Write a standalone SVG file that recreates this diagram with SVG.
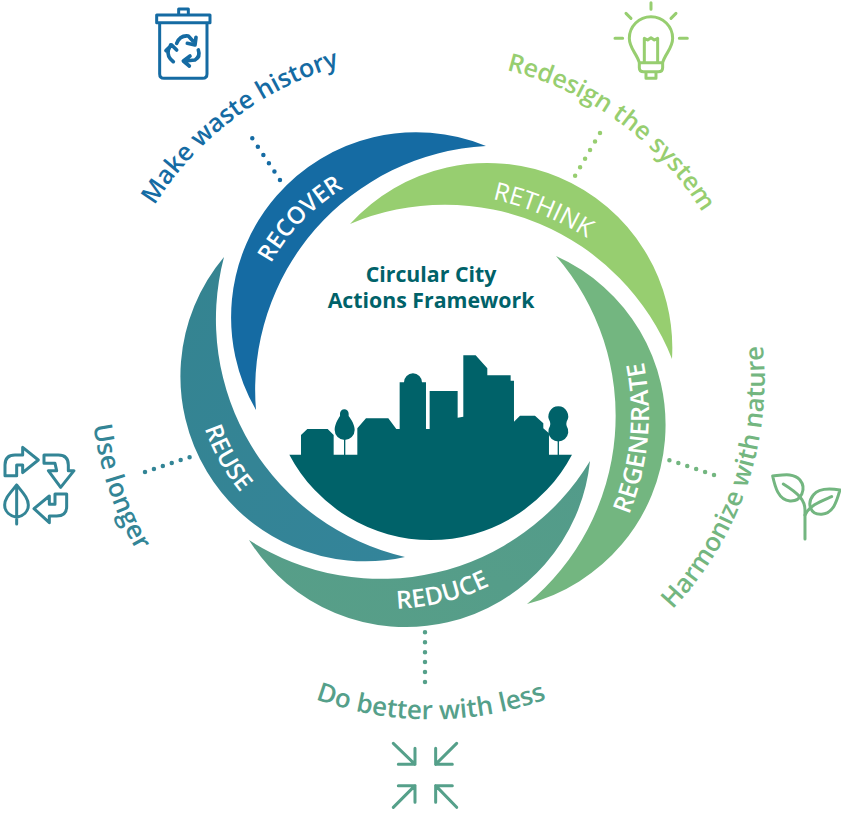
<svg xmlns="http://www.w3.org/2000/svg" width="841" height="820" viewBox="0 0 841 820">
<style>
text{font-family:"Open Sans","Noto Sans","Liberation Sans",sans-serif;font-weight:600}
.lab{font-size:26px}
.seg{font-size:25px;fill:#fff}
.ttl{font-size:21.3px;font-weight:700;fill:#006269;text-anchor:middle}
.ic{fill:none;stroke-width:9;stroke-linecap:round;stroke-linejoin:round}
.dot{fill:none;stroke-width:4.5;stroke-linecap:round}
</style>
<defs>
<linearGradient id="gu" x1="0" y1="0" x2="1" y2="1"><stop offset="0" stop-color="#358490"/><stop offset="1" stop-color="#33849a"/></linearGradient>
<linearGradient id="gd" x1="0" y1="1" x2="1" y2="0"><stop offset="0" stop-color="#589f88"/><stop offset="1" stop-color="#529b8a"/></linearGradient>
<path id="t1" d="M104.4,363 A327,327 0 0 1 504.6,61.4"/>
<path id="t2" d="M353.8,70.5 A319,319 0 0 1 749.2,357.7"/>
<path id="t3" d="M552,690 A333,333 0 0 0 717,208"/>
<path id="t4" d="M213,640 A339,339 0 0 0 649,640"/>
<path id="t5" d="M139.5,204 A340,340 0 0 0 309,697.5"/>
<path id="s1" d="M252,311.6 A200,200 0 0 1 391,168"/>
<path id="s2" d="M411.8,192.4 A300,300 0 0 1 649,290"/>
<path id="s3" d="M600.7,566.6 A266,266 0 0 0 625.8,305.8"/>
<path id="s4" d="M194,364 A200,200 0 0 0 290,535"/>
<path id="s5" d="M323,600 A235,235 0 0 0 551,543"/>
</defs>
<g id="connectors">
<line class="dot" x1="252.3" y1="138.3" x2="280" y2="180" stroke="#156ba3" stroke-dasharray="0 10"/>
<line class="dot" x1="600" y1="133" x2="575" y2="176" stroke="#97ce70" stroke-dasharray="0 9.9"/>
<line class="dot" x1="714" y1="475" x2="669" y2="460" stroke="#73b680" stroke-dasharray="0 9.4"/>
<line class="dot" x1="425" y1="682" x2="425" y2="632" stroke="#55a08a" stroke-dasharray="0 9.95"/>
<line class="dot" x1="145" y1="472" x2="190" y2="457" stroke="#338596" stroke-dasharray="0 9.4"/>
</g>
<g id="recover">
<path fill="#156ba3" d="M256,410 A185,185 0 0 1 486,146 A244,244 0 0 0 256,410Z"/>
<text class="seg" style="font-size:23.8px"><textPath href="#s1" startOffset="50%" text-anchor="middle">RECOVER</textPath></text>
<text class="lab" style="font-size:25.2px" fill="#156ba3"><textPath href="#t1" startOffset="50%" text-anchor="middle">Make waste history</textPath></text>
<g transform="translate(130 0) scale(.3333)" class="ic" stroke="#156ba3">
<path d="M80,45H240V68H80ZM146,45V27H175V45M89,68V222Q89,235 102,235H218Q231,235 231,222V68"/>
<path style="stroke-width:11" d="M140,130Q150,105 175,108L188,122M198,112L195,135L172,130M205,150Q212,170 195,180L165,183M180,168L160,183L178,198M130,185Q110,170 115,150L122,135M108,152L125,135L140,150"/>
</g>
</g>
<g id="rethink">
<path fill="#97ce70" d="M350,224 A185,185 0 0 1 672,359 A244,244 0 0 0 350,224Z"/>
<text class="seg" style="font-weight:500"><textPath href="#s2" startOffset="50%" text-anchor="middle">RETHINK</textPath></text>
<text class="lab" style="font-size:25px" fill="#97ce70"><textPath href="#t2" startOffset="50%" text-anchor="middle">Redesign the system</textPath></text>
<g transform="translate(500 0) scale(.3333)" class="ic" stroke="#97ce70">
<path d="M453,8V28M378,40L393,55M528,40L513,55M345,115H368M538,115H562"/>
<path d="M418,188C410,160 388,145 388,115A65,65 0 1 1 518,115C518,145 496,160 488,188V203Q488,215 475,215H431Q418,215 418,203ZM418,188H488M438,215V235H468V215M433,188V115L443,120L453,113L463,120L473,115V188"/>
</g>
</g>
<g id="regenerate">
<path fill="#73b680" d="M556,256 A185,185 0 0 1 527,604 A244,244 0 0 0 556,256Z"/>
<text class="seg"><textPath href="#s3" startOffset="50%" text-anchor="middle">REGENERATE</textPath></text>
<text class="lab" style="font-size:25.7px" fill="#73b680"><textPath href="#t3" startOffset="50%" text-anchor="middle">Harmonize with nature</textPath></text>
<g transform="translate(650 340) scale(.3333)" class="ic" stroke="#73b680">
<path d="M465,597V510C465,480 445,460 400,432"/>
<path d="M368,408C400,405 430,398 450,420C470,445 455,485 420,483C385,480 375,440 368,408Z"/>
<path d="M570,450C540,445 505,445 490,465C470,490 480,525 515,523C550,520 560,485 570,450Z"/>
<path d="M465,525C480,495 510,485 545,470"/>
</g>
</g>
<g id="reduce">
<path fill="url(#gd)" d="M590,461 A185,185 0 0 1 249,540 A244,244 0 0 0 590,461Z"/>
<text class="seg"><textPath href="#s5" startOffset="50%" text-anchor="middle">REDUCE</textPath></text>
<text class="lab" fill="#55a08a"><textPath href="#t4" startOffset="50%" text-anchor="middle">Do better with less</textPath></text>
<g transform="translate(300 620) scale(.3333)" class="ic" stroke="#55a08a">
<path d="M280,370L345,433M345,385V433H295M470,370L407,433M407,385V433H457M280,562L345,497M345,547V497H295M470,562L407,497M407,547V497H457"/>
</g>
</g>
<g id="reuse">
<path fill="url(#gu)" d="M405,557 A185,185 0 0 1 224,257 A244,244 0 0 0 405,557Z"/>
<text class="seg" style="font-size:24.3px"><textPath href="#s4" startOffset="50%" text-anchor="middle">REUSE</textPath></text>
<text class="lab" fill="#338596"><textPath href="#t5" startOffset="50%" text-anchor="middle">Use longer</textPath></text>
<g transform="translate(0 410) scale(.3333)" class="ic" stroke="#338596">
<path d="M15,197V165Q15,135 45,135H68V112L115,150L68,188V165H50V197Z"/>
<path d="M132,135H175Q205,135 205,165V182H222L182,232L145,182H170L165,160H132Z"/>
<path d="M200,252V290Q200,318 170,318H148V338L102,296L148,258V283H165V252Z"/>
<path d="M50,225C30,250 14,265 14,285C14,305 30,318 50,322C70,318 85,305 85,285C85,265 70,250 50,225ZM50,225V342"/>
</g>
</g>
<g id="city">
<text class="ttl" x="431" y="282">Circular City</text>
<text class="ttl" x="431" y="308">Actions Framework</text>
<g transform="translate(280 340) scale(.3333)" fill="#006269">
<path d="M28,344H63V285L82,267H143L161,285V344H232V265L258,235H325L349,267H359V127H372A27,27 0 0 1 426,127H438V267H449V153H533V233L550,230V46H587L622,85V106H692V122H702V245L720,227H765L790,250V265L807,280V344H876A479,479 0 0 1 28,344Z"/>
<path d="M193,208A13,13 0 0 1 206,221V228C215,240 224,255 224,270A30,30 0 0 1 164,270C164,255 172,240 180,228V221A13,13 0 0 1 193,208Z"/>
<rect x="192" y="290" width="4" height="55"/>
<path d="M835,199A30,30 0 0 1 860,245Q858,252 860,258A30,30 0 1 1 810,258Q812,252 810,245A30,30 0 0 1 835,199Z"/>
<rect x="833" y="300" width="4" height="45"/>
</g>
</g>
</svg>
